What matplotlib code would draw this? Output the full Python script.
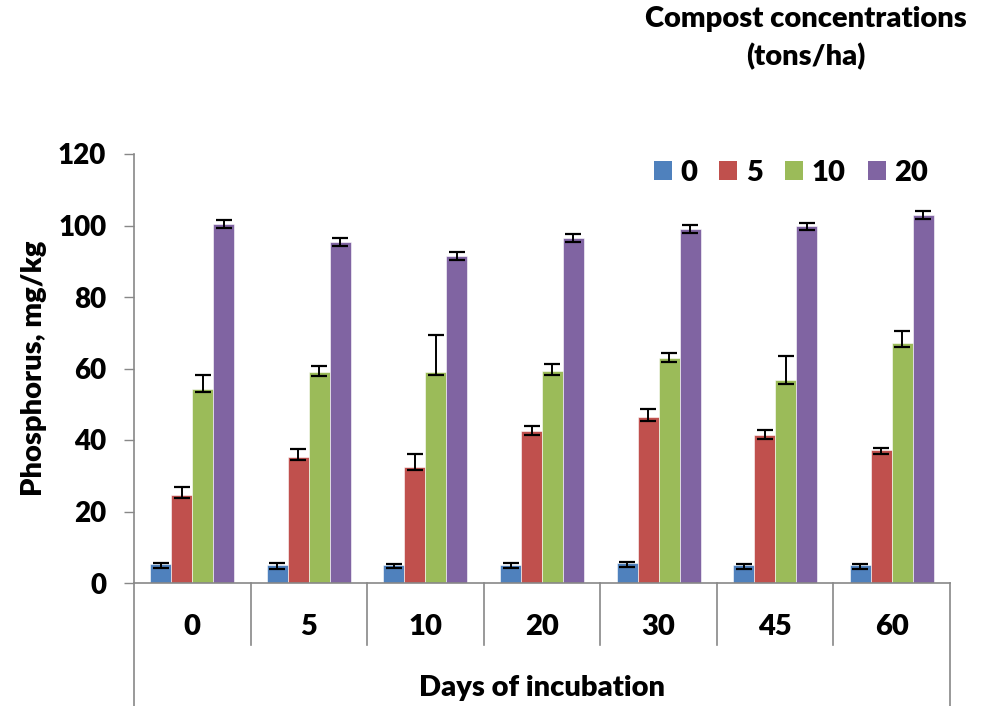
import numpy as np
import matplotlib
matplotlib.use("Agg")
import matplotlib.pyplot as plt
import matplotlib.transforms as mtransforms
from matplotlib.patches import Patch

plt.rcParams['font.family'] = ['Lato', 'DejaVu Sans']
plt.rcParams['font.weight'] = 'heavy'
plt.rcParams['axes.labelweight'] = 'heavy'

days = ["0", "5", "10", "20", "30", "45", "60"]
doses = ["0", "5", "10", "20"]
colors = ["#4F81BD", "#C0504D", "#9BBB59", "#8064A2"]

# mean phosphorus (mg/kg) per compost dose, one entry per incubation day
p_0 = [5.3, 5.1, 5.0, 5.1, 5.6, 4.9, 5.0]
p_5 = [24.7, 35.3, 32.5, 42.6, 46.3, 41.3, 37.1]
p_10 = [54.4, 58.9, 59.0, 59.3, 62.9, 56.7, 67.0]
p_20 = [100.3, 95.4, 91.5, 96.5, 98.9, 99.8, 102.9]

# error bar ends (low, high)
lo_0 = [4.3, 4.0, 4.1, 4.1, 4.5, 3.8, 4.0]
hi_0 = [5.7, 5.5, 5.4, 5.7, 6.0, 5.2, 5.4]
lo_5 = [23.7, 34.3, 31.5, 41.5, 45.3, 40.2, 36.0]
hi_5 = [26.8, 37.5, 36.2, 44.0, 48.7, 42.8, 37.8]
lo_10 = [53.3, 57.9, 58.1, 58.3, 61.8, 55.8, 66.1]
hi_10 = [58.2, 60.8, 69.5, 61.3, 64.3, 63.4, 70.5]
lo_20 = [99.3, 94.3, 90.3, 95.4, 97.9, 98.7, 101.9]
hi_20 = [101.5, 96.6, 92.6, 97.6, 100.1, 100.8, 104.1]

means = [p_0, p_5, p_10, p_20]
lows = [lo_0, lo_5, lo_10, lo_20]
highs = [hi_0, hi_5, hi_10, hi_20]

fig = plt.figure(figsize=(9.82, 7.06), dpi=100)
ax = fig.add_axes([134/982, 123/706, 816/982, 429/706])

x = np.arange(len(days))
w = 0.18
for k in range(4):
    m = np.array(means[k])
    err = [m - np.array(lows[k]), np.array(highs[k]) - m]
    ax.bar(x + (k - 1.5) * w, m, w, color=colors[k], edgecolor='white', linewidth=0.4,
           yerr=err, error_kw=dict(ecolor='black', elinewidth=1.4, capsize=5.5, capthick=1.6),
           label=doses[k], zorder=2)

ax.set_xlim(-0.5, len(days) - 0.5)
ax.set_ylim(0, 120)
ax.set_yticks(range(0, 121, 20))
ax.tick_params(axis='y', length=7, width=1, color='#888888', labelsize=20, pad=13)
ax.set_xticks([])
for s in ['top', 'right']:
    ax.spines[s].set_visible(False)
for s in ['left', 'bottom']:
    ax.spines[s].set_color('#888888')
    ax.spines[s].set_linewidth(1.2)

# category box under the axis
tr = mtransforms.blended_transform_factory(ax.transData, ax.transAxes)
for i in range(len(days) + 1):
    xb = i - 0.5
    bottom = -0.29 if i in (0, len(days)) else -0.1445
    ax.plot([xb, xb], [0, bottom], transform=tr, color='#888888', lw=1.2, clip_on=False)
for i, d in enumerate(days):
    ax.text(i, -0.1026, d, transform=tr, ha='center', va='center', fontsize=21)
ax.text(3, -0.2448, "Days of incubation", transform=tr, ha='center', va='center', fontsize=21)

ax.set_ylabel("Phosphorus, mg/kg", fontsize=21, fontweight='heavy', labelpad=8)

handles = [Patch(facecolor=c) for c in colors]
ax.legend(handles, doses, ncol=4, frameon=False, fontsize=21, loc='center',
          bbox_to_anchor=(791/982, 1 - 173/706), bbox_transform=fig.transFigure,
          handlelength=0.62, handleheight=0.62, handletextpad=0.3, columnspacing=0.75)

fig.text(806/982, 1 - 38/706, "Compost concentrations\n(tons/ha)", ha='center', va='center',
         fontsize=21, linespacing=1.5)

fig.savefig("out.png", dpi=100)
